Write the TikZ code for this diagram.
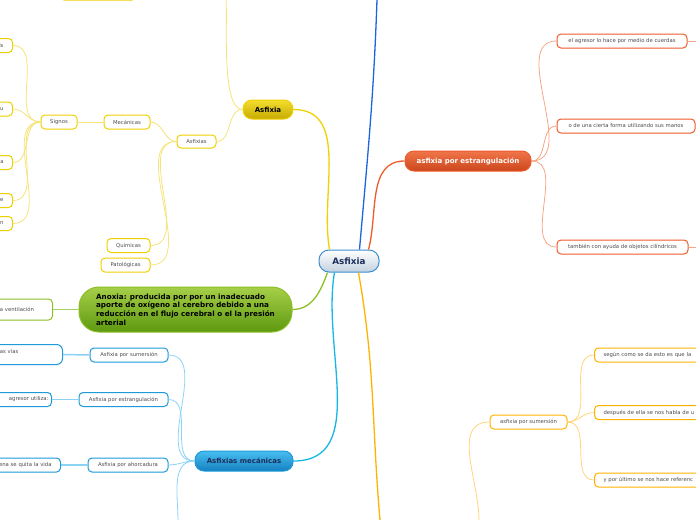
\documentclass[tikz,border=0pt]{standalone}
\usepackage{fontspec}
\setmainfont{DejaVu Sans}

\definecolor{ylwline}{HTML}{EFD000}
\definecolor{ylwthin}{HTML}{F6E37A}
\definecolor{ylwtop}{HTML}{F4DE30}
\definecolor{ylwbot}{HTML}{C6AA00}
\definecolor{orgline}{HTML}{EE5A2A}
\definecolor{orgthin}{HTML}{F5A688}
\definecolor{orgtop}{HTML}{F0764A}
\definecolor{orgbot}{HTML}{CC461C}
\definecolor{ambline}{HTML}{FFB300}
\definecolor{ambthin}{HTML}{FFD47A}
\definecolor{blueline}{HTML}{1E9ADA}
\definecolor{bluethin}{HTML}{8AD3F5}
\definecolor{bluetop}{HTML}{48BEF0}
\definecolor{bluebot}{HTML}{1580C0}
\definecolor{grnline}{HTML}{8CBF26}
\definecolor{grnthin}{HTML}{A9D15E}
\definecolor{grntop}{HTML}{A6CF48}
\definecolor{grnbot}{HTML}{5E9910}
\definecolor{rootline}{HTML}{3D8ED0}
\definecolor{rootbot}{HTML}{C3D2E0}
\definecolor{roottext}{HTML}{1C2F5A}
\definecolor{topline}{HTML}{1A66DC}

\newcommand{\leaftext}{\fontsize{5.3}{6.8}\selectfont}

\begin{document}
\begin{tikzpicture}[x=1pt, y=1pt,
  leaf/.style={draw, fill=white, line width=1pt, rounded corners=4pt,
    inner xsep=9pt, inner ysep=0pt, minimum height=14pt, text=black!70, font=\leaftext},
  yleaf/.style={leaf, draw=ylwline},
  oleaf/.style={leaf, draw=orgline},
  aleaf/.style={leaf, draw=ambline},
  bleaf/.style={leaf, draw=blueline},
  gleaf/.style={leaf, draw=grnline},
  branch/.style={rounded corners=9pt, line width=1pt, minimum height=20pt,
    inner xsep=10pt, font=\bfseries\fontsize{7}{8.7}\selectfont},
  ylink/.style={draw=ylwthin, line width=0.8pt},
  olink/.style={draw=orgthin, line width=0.8pt},
  alink/.style={draw=ambthin, line width=0.8pt},
  blink/.style={draw=bluethin, line width=0.8pt},
  glink/.style={draw=grnthin, line width=0.8pt}]
  \useasboundingbox (0,0) rectangle (696,-520);
  \clip (0,0) rectangle (696,-520);

  % centre
  \node[draw=rootline, line width=1pt, rounded corners=10pt, top color=white, bottom color=rootbot,
    minimum width=60pt, minimum height=22pt, text=roottext, font=\bfseries\fontsize{8.8}{10}\selectfont]
    (c) at (349,-261) {Asfixia};

  % yellow branch
  \node[branch, draw=ylwline, top color=ylwtop, bottom color=ylwbot, minimum width=50pt, minimum height=19pt]
    (ya) at (268,-109.5) {Asfixia};
  \node[yleaf, minimum width=39pt, minimum height=13pt] (yas) at (196.5,-141.5) {Asfixias};
  \node[yleaf, minimum width=46pt] (ymec) at (127,-122) {Mecánicas};
  \node[yleaf, minimum width=36pt] (ysig) at (59,-122) {Signos};
  \node[yleaf, minimum width=43pt] (yqui) at (128.5,-245.5) {Químicas};
  \node[yleaf, minimum width=49pt] (ypat) at (125.5,-265) {Patológicas};
  \node[yleaf, minimum width=76pt] (ytop) at (98,7) {};
  \coordinate (yup) at (226,0);
  \foreach \nm/\yy/\tx in {ys1/45.5/is, ys2/109/u, ys3/162.5/a, ys4/200.5/re, ys5/223.5/n}
    \node[yleaf, anchor=east, text width=40pt, align=right] (\nm) at (13,-\yy) {\tx};

  \draw[ylwline, line width=1.3pt] ([xshift=11pt]c.north west) to[out=100, in=0] (ya.east);
  \draw[ylink] (ya.west) to[out=180, in=-85, looseness=0.5] (yup);
  \draw[ylink] (ya.west) to[out=180, in=0] (yas.east);
  \draw[ylink] (yas.west) to[out=180, in=0] (ymec.east);
  \draw[ylink] (yas.west) to[out=180, in=0] (yqui.east);
  \draw[ylink] (yas.west) to[out=180, in=0] (ypat.east);
  \draw[ylink] (ymec.west) -- (ysig.east);
  \foreach \nm in {ys1, ys2, ys3, ys4, ys5}
    \draw[ylink] (ysig.west) to[out=180, in=0] (\nm.east);

  % top line
  \coordinate (tup) at (377,0);
  \draw[topline, line width=1.3pt] ([xshift=-20pt]c.north east) to[out=85, in=-92] (tup);

  % orange branch
  \node[branch, draw=orgline, top color=orgtop, bottom color=orgbot, text=white, minimum width=126pt]
    (o) at (468,-161) {asfixia por estrangulación};
  \node[oleaf, minimum width=130pt] (o1) at (622,-41) {el agresor lo hace por medio de cuerdas};
  \node[oleaf, minimum width=138pt] (o2) at (626,-126) {o de una cierta forma utilizando sus manos};
  \node[oleaf, minimum width=131pt] (o3) at (622.5,-247) {también con ayuda de objetos cilíndricos};
  \coordinate (o1r) at (700,-41);
  \coordinate (o3r) at (700,-247);
  \draw[orgline, line width=1.3pt] ([xshift=-11pt]c.north east) to[out=75, in=180] (o.west);
  \foreach \nm in {o1, o2, o3}
    \draw[olink] (o.east) to[out=0, in=180] (\nm.west);
  \draw[olink] (o1.east) -- (o1r);
  \draw[olink] (o3.east) -- (o3r);

  % green branch
  \node[branch, draw=grnline, top color=grntop, bottom color=grnbot, rounded corners=20pt,
    minimum width=213pt, minimum height=45pt, align=left, inner xsep=10pt,
    font=\bfseries\fontsize{7.2}{8.7}\selectfont]
    (g) at (185.5,-309.5) {Anoxia: producida por por un inadecuado\\aporte de oxígeno al cerebro debido a una\\reducción en el flujo cerebral o el la presión\\arterial};
  \node[gleaf, anchor=east, minimum height=21pt, text width=45pt, align=left] (gl) at (53,-309.5) {la ventilación};
  \draw[grnline, line width=1.3pt] ([xshift=9pt]c.south west) to[out=-110, in=0] (g.east);
  \draw[glink] (g.west) -- (gl.east);

  % blue branch
  \node[branch, draw=blueline, top color=bluetop, bottom color=bluebot, text=roottext, minimum width=98pt]
    (m) at (244,-461) {Asfixias mecánicas};
  \node[bleaf, minimum width=78pt] (m1) at (129,-355) {Asfixia por sumersión};
  \node[bleaf, minimum width=89pt] (m2) at (123.5,-399.5) {Asfixia por estrangulación};
  \node[bleaf, minimum width=80pt] (m3) at (128,-465) {Asfixia por ahorcadura};
  \node[bleaf, anchor=east, minimum height=20pt, rounded corners=6pt, text width=55pt, align=left]
    (m1l) at (63,-354.5) {las vías\\ \mbox{}};
  \node[bleaf, anchor=east, inner xsep=3pt, text width=60pt, align=right] (m2l) at (52,-399.5) {agresor utiliza:};
  \node[bleaf, anchor=east, text width=60pt, align=right] (m3l) at (61,-465) {ena se quita la vida};
  \coordinate (mdown) at (178,-520);
  \draw[blueline!70!cyan, line width=1.3pt] ([xshift=16pt]c.south west) to[out=-100, in=0] (m.east);
  \foreach \nm in {m1, m2, m3}
    \draw[blink] (m.west) to[out=180, in=0] (\nm.east);
  \draw[blink] (m.west) to[out=180, in=90] (mdown);
  \draw[blink, line width=1.5pt] (m1.west) -- (m1l.east);
  \draw[blink, line width=1.5pt] (m2.west) -- (m2l.east);
  \draw[blink, line width=1.5pt] (m3.west) -- (m3l.east);

  % amber branch
  \coordinate (cdown) at (380,-520);
  \draw[ambline, line width=1.3pt] ([xshift=-21pt]c.south east) to[out=-80, in=95] (cdown);
  \node[aleaf, minimum width=77pt] (a) at (528.5,-422) {asfixia por sumersión};
  \node[aleaf, anchor=west, text width=130pt, align=left] (a1) at (594,-355) {según como se da esto es que la};
  \node[aleaf, anchor=west, text width=130pt, align=left] (a2) at (594,-412.5) {después de ella se nos habla de u};
  \node[aleaf, anchor=west, text width=130pt, align=left] (a3) at (594,-480) {y por último se nos hace referenc};
  \coordinate (adown) at (479,-520);
  \draw[alink] (a.west) to[out=180, in=90] (adown);
  \foreach \nm in {a1, a2, a3}
    \draw[alink] (a.east) to[out=0, in=180] (\nm.west);
\end{tikzpicture}
\end{document}
